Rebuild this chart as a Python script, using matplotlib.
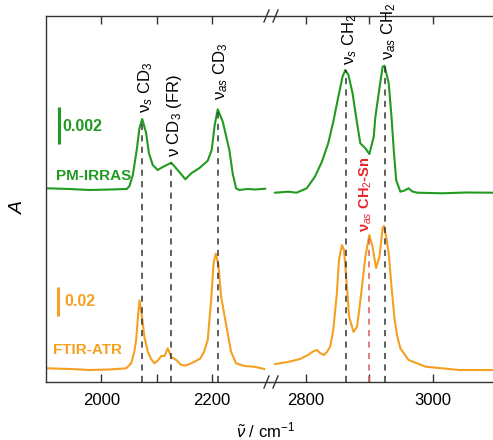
import numpy as np
import matplotlib
matplotlib.use("Agg")
import matplotlib.pyplot as plt

plt.rcParams['font.family'] = ['Liberation Sans', 'DejaVu Sans']
plt.rcParams['mathtext.fontset'] = 'custom'
plt.rcParams['mathtext.rm'] = 'Liberation Sans'
plt.rcParams['mathtext.it'] = 'Liberation Sans:italic'

GREEN = '#229a22'
ORANGE = '#f5a020'
RED = '#e8262c'
DARK = '#333333'

# PM-IRRAS spectrum (offset, arbitrary units), CD3 region
pm_cd_wn = [1902, 1943, 1979, 2015, 2046, 2051, 2057, 2064, 2069, 2074, 2081, 2086,
            2093, 2102, 2111, 2120, 2126.5, 2138, 2152, 2162.5, 2177.5, 2192.4, 2199.6,
            2205, 2210.5, 2219.5, 2225.6, 2231.5, 2237.5, 2243.6, 2249.5, 2264, 2278, 2296.4]
pm_cd_a = [1.937, 1.93, 1.92, 1.925, 1.93, 1.96, 2.07, 2.32, 2.54, 2.63, 2.49, 2.29,
           2.17, 2.12, 2.15, 2.175, 2.193, 2.12, 2.027, 2.087, 2.14, 2.213, 2.32,
           2.57, 2.727, 2.605, 2.46, 2.32, 2.087, 1.937, 1.92, 1.93, 1.925, 1.933]

# PM-IRRAS spectrum, CH2 region
pm_ch_wn = [2750.8, 2772, 2785, 2801, 2814, 2825, 2835, 2843, 2851, 2857.6, 2862, 2867,
            2873.5, 2879, 2885.7, 2893.7, 2900, 2907, 2909.5, 2914.8, 2921, 2924, 2930.6,
            2935, 2938.6, 2942.4, 2949, 2955.6, 2962, 2968, 2975.7, 3015, 3052, 3094.8]
pm_ch_a = [1.893, 1.903, 1.893, 1.937, 2.053, 2.203, 2.387, 2.603, 2.853, 3.053, 3.12, 3.07,
           2.887, 2.653, 2.387, 2.337, 2.28, 2.453, 2.65, 2.887, 3.153, 3.163, 2.987,
           2.653, 2.32, 2.02, 1.903, 1.915, 1.937, 1.905, 1.893, 1.887, 1.895, 1.893]

# FTIR-ATR spectrum, CD3 region
atr_cd_wn = [1901, 1943, 1979, 2015, 2045, 2054, 2059.5, 2063, 2066.5, 2069, 2073.5, 2078,
             2084, 2090, 2096, 2102, 2108.5, 2114.4, 2120, 2126.5, 2135.5, 2144.5, 2152,
             2159.5, 2168.5, 2179, 2185.6, 2192.4, 2198.6, 2203, 2207, 2211.7, 2216.6,
             2222.5, 2228.5, 2234.6, 2243.6, 2258.6, 2276.6, 2294.6]
atr_cd_a = [0.137, 0.13, 0.12, 0.125, 0.137, 0.187, 0.30, 0.42, 0.67, 0.815, 0.653, 0.45,
            0.303, 0.23, 0.187, 0.215, 0.26, 0.26, 0.337, 0.25, 0.22, 0.17, 0.165,
            0.18, 0.203, 0.235, 0.30, 0.42, 0.82, 1.187, 1.284, 1.17, 0.853,
            0.67, 0.487, 0.303, 0.187, 0.16, 0.153, 0.13]

# FTIR-ATR spectrum, CH2 region
atr_ch_wn = [2751, 2771.4, 2790.5, 2803, 2811, 2817, 2822, 2828, 2833, 2838, 2843, 2848.7,
             2852, 2856.7, 2860, 2864.6, 2868, 2875, 2880.5, 2884, 2888.4, 2893.7, 2900,
             2905, 2910.6, 2916, 2921, 2923, 2927, 2930.6, 2935, 2940, 2944.4, 2949,
             2962, 2989, 3042, 3095]
atr_ch_a = [0.18, 0.20, 0.23, 0.27, 0.305, 0.32, 0.29, 0.27, 0.30, 0.353, 0.52, 0.887,
            1.22, 1.37, 1.32, 0.953, 0.653, 0.50, 0.553, 0.72, 0.953, 1.253, 1.47,
            1.353, 1.14, 1.253, 1.537, 1.56, 1.44, 1.287, 0.953, 0.62, 0.45, 0.337,
            0.22, 0.153, 0.12, 0.12]

# band assignments: position, top of dashed line, label, label bottom
cd_bands = [2074, 2126.5, 2210.5]
cd_tops = [2.63, 2.19, 2.73]
cd_labels = ['ν$_s$ CD$_3$', 'ν CD$_3$ (FR)', 'ν$_{as}$ CD$_3$']
cd_label_y = [2.69, 2.25, 2.82]

ch_bands = [2863, 2924]
ch_tops = [3.12, 3.16]
ch_labels = ['ν$_s$ CH$_2$', 'ν$_{as}$ CH$_2$']
ch_label_y = [3.17, 3.22]

sn_band = 2900
sn_top = 1.47
sn_label = 'ν$_{as}$ CH$_2$-Sn'
sn_label_y = 1.50

# scale bars (y start, y end)
pm_bar = [2.38, 2.753]
atr_bar = [0.66, 0.953]

fig = plt.figure(figsize=(4.93, 4.4), dpi=100)
ax1 = fig.add_axes([46 / 493, 58 / 440, 224 / 493, 366 / 440])
ax2 = fig.add_axes([270 / 493, 58 / 440, 224 / 493, 366 / 440])

ax1.plot(pm_cd_wn, pm_cd_a, color=GREEN, lw=1.5)
ax1.plot(atr_cd_wn, atr_cd_a, color=ORANGE, lw=1.5)
ax2.plot(pm_ch_wn, pm_ch_a, color=GREEN, lw=1.5)
ax2.plot(atr_ch_wn, atr_ch_a, color=ORANGE, lw=1.5)

for x, top, lab, ly in zip(cd_bands, cd_tops, cd_labels, cd_label_y):
    ax1.plot([x, x], [0, top], color=DARK, lw=1.1, ls=(0, (4, 3.5)))
    ax1.text(x + 6, ly, lab, rotation=90, ha='center', va='bottom', fontsize=12, color='black')

for x, top, lab, ly in zip(ch_bands, ch_tops, ch_labels, ch_label_y):
    ax2.plot([x, x], [0, top], color=DARK, lw=1.1, ls=(0, (4, 3.5)))
    ax2.text(x + 6, ly, lab, rotation=90, ha='center', va='bottom', fontsize=12, color='black')

ax2.plot([sn_band, sn_band], [0, sn_top], color='#e05a5a', lw=1.1, ls=(0, (4, 3.5)))
ax2.text(sn_band - 6, sn_label_y, sn_label, rotation=90, ha='center', va='bottom',
         fontsize=10.5, color=RED, fontweight='bold')

# scale bars and spectrum names
ax1.plot([1923, 1923], pm_bar, color=GREEN, lw=2.2, solid_capstyle='butt')
ax1.plot([1922, 1922], atr_bar, color=ORANGE, lw=2.2, solid_capstyle='butt')
ax1.text(1929, 2.56, '0.002', color=GREEN, fontsize=11.5, fontweight='bold', va='center')
ax1.text(1934, 0.81, '0.02', color=ORANGE, fontsize=11.5, fontweight='bold', va='center')
ax1.text(1918, 2.06, 'PM-IRRAS', color=GREEN, fontsize=11, fontweight='bold', va='center')
ax1.text(1912, 0.32, 'FTIR-ATR', color=ORANGE, fontsize=11, fontweight='bold', va='center')

ax1.set_xlim(1900, 2305)
ax2.set_xlim(2743, 3097)
for ax in (ax1, ax2):
    ax.set_ylim(0, 3.66)
    ax.set_yticks([])
    ax.tick_params(axis='x', direction='in', top=True, bottom=True, length=6,
                   width=1, color=DARK, labelsize=12, pad=8)
    for s in ax.spines.values():
        s.set_color(DARK)
        s.set_linewidth(1)
ax1.spines['right'].set_visible(False)
ax2.spines['left'].set_visible(False)
ax2.spines['right'].set_visible(False)

ax1.set_xticks([2000, 2100, 2200])
ax1.set_xticklabels(['2000', '', '2200'])
ax2.set_xticks([2800, 2900, 3000])
ax2.set_xticklabels(['2800', '', '3000'])

# axis break marks
for y0 in (16, 382):
    for dx in (0, 9):
        x0 = 264 + dx
        fig.add_artist(plt.Line2D([x0 / 493, (x0 + 5) / 493],
                                  [1 - (y0 + 6) / 440, 1 - (y0 - 6) / 440],
                                  transform=fig.transFigure, color=DARK, lw=1))

fig.text(18 / 493, 1 - 208 / 440, 'A', rotation=90, style='italic', fontsize=14,
         ha='center', va='center')
fig.text(266 / 493, 1 - 430 / 440, r'$\tilde{\nu}$ / cm$^{-1}$', fontsize=12,
         ha='center', va='center')

plt.savefig('out.png', dpi=100)
